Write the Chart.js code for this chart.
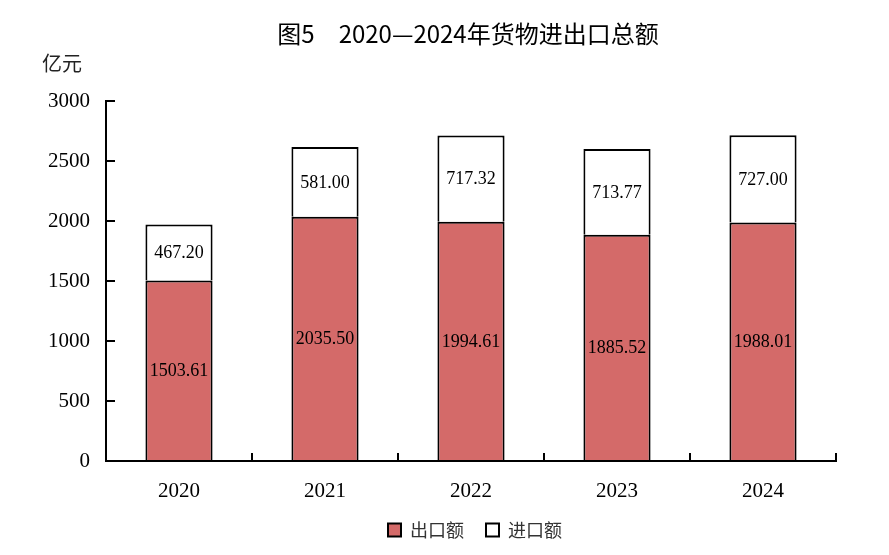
<!DOCTYPE html>
<html><head><meta charset="utf-8">
<script src="https://cdn.jsdelivr.net/npm/chart.js@4.4.1/dist/chart.umd.min.js"></script>
<style>html,body{margin:0;padding:0;background:#fff}#wrap{width:889px;height:555px}</style>
</head><body><div id="wrap"><canvas id="c" width="889" height="555"></canvas></div>
<script>
const categories = ['2020', '2021', '2022', '2023', '2024'];
const exportValues = [1503.61, 2035.50, 1994.61, 1885.52, 1988.01];
const importValues = [467.20, 581.00, 717.32, 713.77, 727.00];
const seriesNames = ['出口额', '进口额'];
const yTickValues = [0, 500, 1000, 1500, 2000, 2500, 3000];
const titleText = '图5\u30002020—2024年货物进出口总额';
const unitText = '亿元';

const SERIF = '"Liberation Serif", "Times New Roman", serif';
const CJK = '"Noto Sans CJK SC", sans-serif';

const textPlugin = {
  id: 'textPlugin',
  afterDraw(chart) {
    const ctx = chart.ctx;
    ctx.save();
    ctx.fillStyle = '#000';
    ctx.textAlign = 'center';
    ctx.textBaseline = 'middle';
    ctx.font = '24px ' + CJK;
    ctx.fillText(titleText, 468, 34);
    ctx.font = '20px ' + CJK;
    ctx.fillStyle = '#222';
    ctx.textAlign = 'left';
    ctx.fillText(unitText, 42, 63);
    ctx.restore();
  }
};

const labelPlugin = {
  id: 'labelPlugin',
  afterDatasetsDraw(chart) {
    const ctx = chart.ctx;
    ctx.save();
    ctx.fillStyle = '#000';
    ctx.font = '18px ' + SERIF;
    ctx.textAlign = 'center';
    ctx.textBaseline = 'middle';
    chart.data.datasets.forEach((ds, di) => {
      const meta = chart.getDatasetMeta(di);
      meta.data.forEach((bar, i) => {
        const y = (bar.y + bar.base) / 2;
        ctx.fillText(ds.data[i].toFixed(2), bar.x, y + 1);
      });
    });
    ctx.restore();
  }
};

new Chart(document.getElementById('c'), {
  type: 'bar',
  data: {
    labels: categories,
    datasets: [
      { label: seriesNames[0], data: exportValues, backgroundColor: '#D46A69', borderColor: '#000', borderWidth: 2, yAxisID: 'y' },
      { label: seriesNames[1], data: importValues, backgroundColor: '#FFFFFF', borderColor: '#000', borderWidth: 2, yAxisID: 'y' }
    ]
  },
  options: {
    responsive: false,
    animation: false,
    devicePixelRatio: 1,
    layout: { padding: { top: 101, left: 45, right: -16, bottom: 6 } },
    datasets: { bar: { categoryPercentage: 1, barPercentage: 0.46 } },
    plugins: {
      legend: {
        position: 'bottom',
        labels: {
          font: { family: CJK, size: 18 },
          color: '#333',
          boxWidth: 13,
          boxHeight: 13,
          padding: 22
        }
      },
      tooltip: { enabled: false }
    },
    scales: {
      x: {
        stacked: true,
        border: { display: true, color: '#000', width: 2 },
        grid: { display: true, offset: true, drawOnChartArea: false, drawTicks: true, tickLength: -8, color: '#000', lineWidth: 2 },
        ticks: { color: '#000', font: { family: SERIF, size: 21 }, padding: 26 },
        afterFit(scale) { scale.height = 38; }
      },
      y: {
        stacked: true,
        position: 'left',
        min: 0,
        max: 3000,
        border: { display: true, color: '#000', width: 2 },
        grid: { display: true, drawOnChartArea: false, drawTicks: true, tickLength: -9, color: '#000', lineWidth: 2 },
        ticks: { color: '#000', font: { family: SERIF, size: 21 }, padding: 25, callback: (v) => String(v) },
        afterBuildTicks(scale) { scale.ticks = yTickValues.map(v => ({ value: v })); },
        afterFit(scale) { scale.width = 61; }
      },
      yR: {
        position: 'right',
        display: true,
        border: { display: false },
        grid: { display: false, drawTicks: false },
        ticks: { display: false },
        afterFit(scale) { scale.width = 69; }
      }
    }
  },
  plugins: [textPlugin, labelPlugin]
});
</script>
</body></html>
